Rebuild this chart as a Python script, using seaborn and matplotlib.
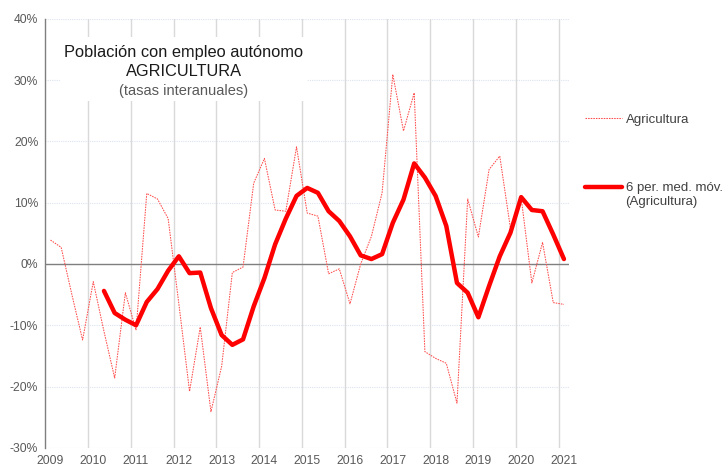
import numpy as np
import pandas as pd
import matplotlib
matplotlib.use("Agg")
import matplotlib.pyplot as plt
from matplotlib.lines import Line2D
import seaborn as sns

# trimestres 2009T1 .. 2021T1
years = list(range(2009, 2022))
quarters = [f"{y}T{q}" for y in years for q in range(1, 5)][:49]

# tasa interanual (%) autónomos agricultura
agricultura = [3.9, 2.7, -5.0, -12.4, -2.9, -11.0, -18.6, -4.7, -10.8, 11.5,
               10.6, 7.4, -6.5, -20.8, -10.3, -24.1, -16.7, -1.4, -0.5, 13.2,
               17.2, 8.8, 8.6, 19.1, 8.3, 7.8, -1.6, -0.8, -6.5, 0.0,
               4.5, 11.6, 30.9, 21.7, 27.9, -14.3, -15.4, -16.2, -22.7, 10.6,
               4.4, 15.4, 17.6, 5.8, 10.8, -3.1, 3.5, -6.3, -6.6]

# media movil 6 periodos, empieza en 2010T2
media_movil = [np.nan] * 5 + [
    -4.4, -8.0, -9.1, -10.0, -6.2, -4.1, -1.1, 1.25, -1.5, -1.4,
    -7.2, -11.6, -13.2, -12.3, -6.9, -2.3, 3.2, 7.4, 11.1, 12.4,
    11.6, 8.6, 7.0, 4.5, 1.4, 0.8, 1.6, 6.7, 10.5, 16.4,
    14.1, 11.1, 6.2, -3.1, -4.7, -8.7, -3.6, 1.25, 5.1, 10.9,
    8.8, 8.6, 4.8, 0.8]

df = pd.DataFrame({
    "pos": np.arange(len(quarters)),
    "trimestre": quarters,
    "agricultura": agricultura,
    "media": media_movil,
})

sns.set_style("white")
plt.rcParams["font.family"] = ["Liberation Sans", "DejaVu Sans"]

fig = plt.figure(figsize=(7.28, 4.68), dpi=100)
ax = fig.add_axes([0.062, 0.043, 0.72, 0.917])

gris = "#595959"
for v in range(-30, 41, 10):
    if v != 0:
        ax.axhline(v, color="#dbe4f0", lw=0.8, ls=(0, (1, 1)), zorder=0)
for k in range(1, 13):
    ax.axvline(4 * k - 0.5, color="#d9d9d9", lw=1.0, zorder=0)
ax.axhline(0, color="#7f7f7f", lw=1.0, zorder=1)

col_fina = "#ff4d4d"
estilo_fina = (0, (1.5, 1))
sns.lineplot(data=df, x="pos", y="agricultura", ax=ax, color=col_fina,
             lw=0.75, ls=estilo_fina, zorder=3, legend=False)
sns.lineplot(data=df, x="pos", y="media", ax=ax, color="#ff0000",
             lw=3.2, zorder=4, legend=False)

ax.set_xlim(-0.5, 48.5)
ax.set_ylim(-30, 40)
ax.set_xticks(range(0, 49, 4))
ax.set_xticklabels([str(y) for y in years])
ax.set_yticks(range(-30, 41, 10))
ax.set_yticklabels([f"{v}%" for v in range(-30, 41, 10)])
ax.tick_params(axis="both", length=0, labelsize=8.7, colors=gris)
ax.tick_params(axis="x", pad=5)
ax.tick_params(axis="y", pad=5)
ax.set_xlabel("")
ax.set_ylabel("")
for s in ["top", "right", "bottom"]:
    ax.spines[s].set_visible(False)
ax.spines["left"].set_color("#7f7f7f")
ax.spines["left"].set_linewidth(1.0)

# caja del titulo
ax.add_patch(plt.Rectangle((0.029, 0.809), 0.471, 0.149, transform=ax.transAxes,
                           facecolor="white", edgecolor="none", zorder=2))
fig.text(184 / 728, 1 - 52 / 468, "Población con empleo autónomo", ha="center",
         va="center", fontsize=11.8, color="#1a1a1a", zorder=5)
fig.text(184 / 728, 1 - 72 / 468, "AGRICULTURA", ha="center", va="center",
         fontsize=11.8, color="#1a1a1a", zorder=5)
fig.text(184 / 728, 1 - 91 / 468, "(tasas interanuales)", ha="center",
         va="center", fontsize=10.5, color=gris, zorder=5)

# leyenda
handles = [Line2D([], [], color=col_fina, lw=0.75, ls=estilo_fina),
           Line2D([], [], color="#ff0000", lw=3.2)]
leg = ax.legend(handles, ["Agricultura", "6 per. med. móv."], loc="upper left",
                bbox_to_anchor=(580 / 728, 1 - 108.5 / 468),
                bbox_transform=fig.transFigure, frameon=False, fontsize=9.5,
                handlelength=2.8, handletextpad=0.25, labelspacing=4.25,
                borderaxespad=0)
for t in leg.get_texts():
    t.set_color("#404040")
fig.canvas.draw()
bb = leg.get_texts()[1].get_window_extent()
fig.text(bb.x0 / fig.bbox.width, 1 - 202 / 468, "(Agricultura)", ha="left",
         va="center", fontsize=9.5, color="#404040")

fig.savefig("out.png", dpi=100)
